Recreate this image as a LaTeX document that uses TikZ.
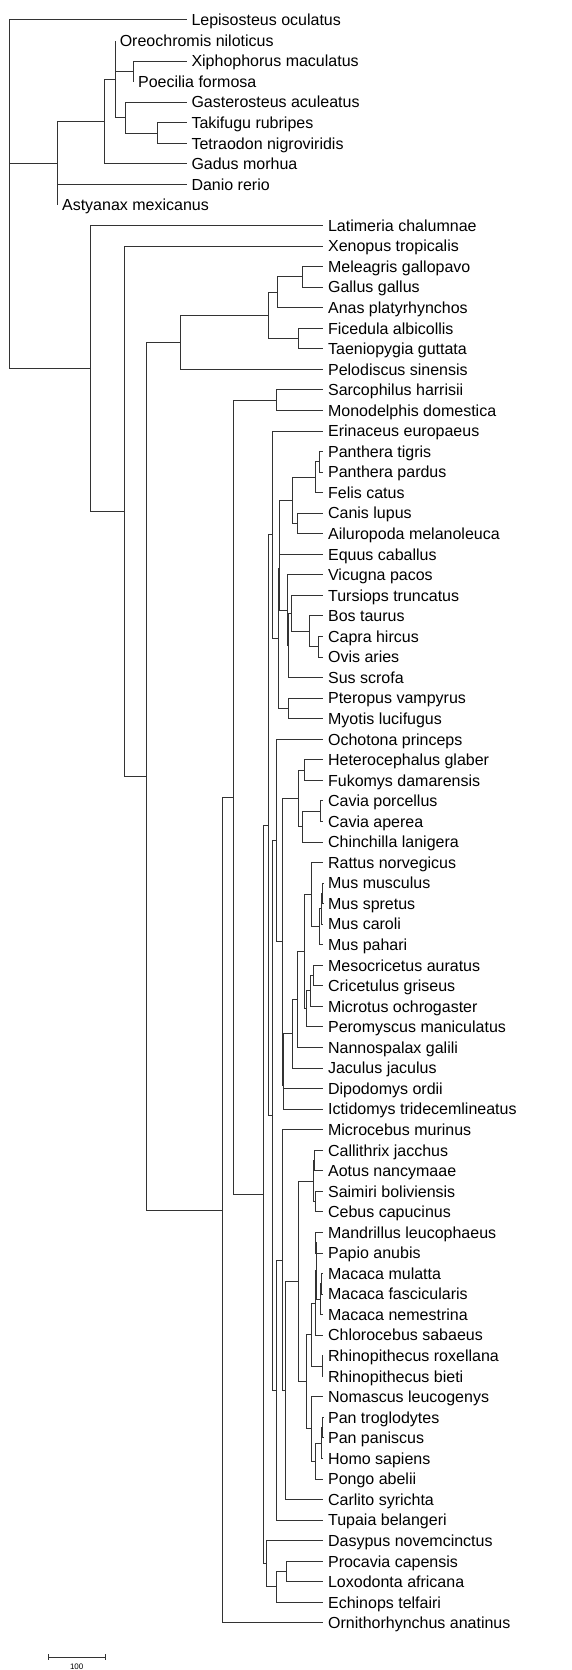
\documentclass[tikz,border=0pt]{standalone}
\usepackage{fontspec}
\usetikzlibrary{calc}
\newfontfamily\labfont{Liberation Sans}

% internal node: x position, y halfway between its first and last child
\newcommand\clade[4]{\path let \p1=(#3), \p2=(#4) in coordinate (#1) at (#2pt,{0.5*\y1+0.5*\y2});}
% rectangular branches from a node to each of its children
\newcommand\kids[2]{\foreach \kd in {#2}{\draw[branch] (#1) |- (\kd);}}

\begin{document}
\begin{tikzpicture}[x=1pt,y=-20.55pt,
  branch/.style={draw=black!80,line width=1pt},
  leaf/.style={anchor=west,inner xsep=4.6pt,inner ysep=0pt,text height=11.5pt,text depth=0pt,
    font=\labfont\fontsize{16}{19}\selectfont,text=black},
  scalelabel/.style={anchor=north,inner sep=0pt,font=\labfont\fontsize{8}{9}\selectfont}]
\useasboundingbox (0,0.02676) rectangle (571,81.2920);

% ---- leaves: ray-finned fishes
\node[leaf] (l1) at (186.7,1) {Lepisosteus oculatus};
\node[leaf] (l2) at (115,2) {Oreochromis niloticus};
\node[leaf] (l3) at (186.7,3) {Xiphophorus maculatus};
\node[leaf] (l4) at (133.3,4) {Poecilia formosa};
\node[leaf] (l5) at (186.7,5) {Gasterosteus aculeatus};
\node[leaf] (l6) at (186.7,6) {Takifugu rubripes};
\node[leaf] (l7) at (186.7,7) {Tetraodon nigroviridis};
\node[leaf] (l8) at (186.7,8) {Gadus morhua};
\node[leaf] (l9) at (186.7,9) {Danio rerio};
\node[leaf] (l10) at (57.3,10) {Astyanax mexicanus};

% ---- leaves: lobe-finned vertebrates
\foreach \n [count=\i from 11] in {Latimeria chalumnae, Xenopus tropicalis, Meleagris gallopavo,
  Gallus gallus, Anas platyrhynchos, Ficedula albicollis, Taeniopygia guttata, Pelodiscus sinensis,
  Sarcophilus harrisii, Monodelphis domestica, Erinaceus europaeus, Panthera tigris, Panthera pardus,
  Felis catus, Canis lupus, Ailuropoda melanoleuca, Equus caballus, Vicugna pacos, Tursiops truncatus,
  Bos taurus, Capra hircus, Ovis aries, Sus scrofa, Pteropus vampyrus, Myotis lucifugus,
  Ochotona princeps, Heterocephalus glaber, Fukomys damarensis, Cavia porcellus, Cavia aperea,
  Chinchilla lanigera, Rattus norvegicus, Mus musculus, Mus spretus, Mus caroli, Mus pahari,
  Mesocricetus auratus, Cricetulus griseus, Microtus ochrogaster, Peromyscus maniculatus,
  Nannospalax galili, Jaculus jaculus, Dipodomys ordii, Ictidomys tridecemlineatus,
  Microcebus murinus, Callithrix jacchus, Aotus nancymaae, Saimiri boliviensis, Cebus capucinus,
  Mandrillus leucophaeus, Papio anubis, Macaca mulatta, Macaca fascicularis, Macaca nemestrina,
  Chlorocebus sabaeus, Rhinopithecus roxellana, Rhinopithecus bieti, Nomascus leucogenys,
  Pan troglodytes, Pan paniscus, Homo sapiens, Pongo abelii, Carlito syrichta, Tupaia belangeri,
  Dasypus novemcinctus, Procavia capensis, Loxodonta africana, Echinops telfairi,
  Ornithorhynchus anatinus}
  \node[leaf] (l\i) at (323.3,\i) {\n};

% ---- internal nodes, bottom-up
% fishes
\clade{fF}{157.3}{l6}{l7}
\clade{fE}{125}{l5}{fF}
\clade{fD}{133.3}{l3}{l4}
\clade{fC}{115}{l2}{fE}
\clade{fB}{104}{fC}{l8}
\clade{fA}{57.3}{fB}{l10}
% sauropsids
\clade{galli}{302.3}{l13}{l14}
\clade{gallo}{277.7}{galli}{l15}
\clade{neoav}{298.3}{l16}{l17}
\clade{aves}{268.3}{gallo}{neoav}
\clade{saur}{180}{aves}{l18}
% marsupials
\clade{mars}{276.7}{l19}{l20}
% laurasiatherians
\clade{panth}{319}{l22}{l23}
\clade{felid}{315}{panth}{l24}
\clade{canif}{297.3}{l25}{l26}
\clade{carn}{292.3}{felid}{canif}
\clade{carneq}{279.7}{carn}{l27}
\clade{capr}{318.3}{l31}{l32}
\clade{bov}{309.3}{l30}{capr}
\clade{cetru}{291.7}{l29}{bov}
\clade{cetq}{288.3}{cetru}{l33}
\clade{cetart}{287.3}{l28}{cetq}
\clade{ferung}{279}{carneq}{cetart}
\clade{chiro}{288.3}{l34}{l35}
\clade{scrot}{278.3}{ferung}{chiro}
\clade{laur}{272.7}{l21}{scrot}
% glires
\clade{phiom}{304}{l37}{l38}
\clade{cavia}{320}{l39}{l40}
\clade{cavio}{302.7}{cavia}{l41}
\clade{hystr}{298.3}{phiom}{cavio}
\clade{musA}{322.7}{l43}{l44}
\clade{musB}{321}{musA}{l45}
\clade{musC}{319.3}{musB}{l46}
\clade{murin}{311.7}{l42}{musC}
\clade{crici}{313.3}{l47}{l48}
\clade{cricB}{310}{crici}{l49}
\clade{cricet}{306}{cricB}{l50}
\clade{muroid}{304}{murin}{cricet}
\clade{spalac}{297.3}{muroid}{l51}
\clade{myomor}{292.7}{spalac}{l52}
\clade{mouserel}{283.7}{myomor}{l53}
\clade{sciur}{283.2}{mouserel}{l54}
\clade{rod}{282.7}{hystr}{sciur}
\clade{glires}{276.7}{l36}{rod}
% euarchonta
\clade{callA}{314}{l56}{l57}
\clade{cebid}{315}{l58}{l59}
\clade{platy}{313.3}{callA}{cebid}
\clade{mandp}{315.7}{l60}{l61}
\clade{macA}{321.7}{l62}{l63}
\clade{macaca}{320}{macA}{l64}
\clade{papion}{316.3}{mandp}{macaca}
\clade{cercin}{315}{papion}{l65}
\clade{colob}{322.3}{l66}{l67}
\clade{cercid}{311.7}{cercin}{colob}
\clade{pan}{322.7}{l69}{l70}
\clade{homin}{321}{pan}{l71}
\clade{hominid}{315}{homin}{l72}
\clade{hominoid}{311.7}{l68}{hominid}
\clade{catar}{306}{cercid}{hominoid}
\clade{anthr}{298.3}{platy}{catar}
\clade{haplo}{285.3}{anthr}{l73}
\clade{prim}{282.7}{l55}{haplo}
\clade{euarch}{276.7}{prim}{l74}
\clade{euglir}{272.7}{glires}{euarch}
\clade{boreo}{268.3}{laur}{euglir}
% atlantogenata and deeper nodes
\clade{paen}{286}{l76}{l77}
\clade{afro}{276.7}{paen}{l78}
\clade{atlan}{266.7}{l75}{afro}
\clade{plac}{263.3}{boreo}{atlan}
\clade{theria}{233.3}{mars}{plac}
\clade{mamm}{222.7}{theria}{l79}
\clade{amnio}{146.7}{saur}{mamm}
\clade{tetra}{124}{l12}{amnio}
\clade{sarc}{90}{l11}{tetra}
\clade{root}{9}{l1}{sarc}

% ---- branches
\kids{root}{l1,fA,sarc}
\kids{fA}{fB,l9,l10}
\kids{fB}{fC,l8}
\kids{fC}{l2,fD,fE}
\kids{fD}{l3,l4}
\kids{fE}{l5,fF}
\kids{fF}{l6,l7}
\kids{sarc}{l11,tetra}
\kids{tetra}{l12,amnio}
\kids{amnio}{saur,mamm}
\kids{saur}{aves,l18}
\kids{aves}{gallo,neoav}
\kids{gallo}{galli,l15}
\kids{galli}{l13,l14}
\kids{neoav}{l16,l17}
\kids{mamm}{theria,l79}
\kids{theria}{mars,plac}
\kids{mars}{l19,l20}
\kids{plac}{boreo,atlan}
\kids{boreo}{laur,euglir}
\kids{laur}{l21,scrot}
\kids{scrot}{ferung,chiro}
\kids{ferung}{carneq,cetart}
\kids{carneq}{carn,l27}
\kids{carn}{felid,canif}
\kids{felid}{panth,l24}
\kids{panth}{l22,l23}
\kids{canif}{l25,l26}
\kids{cetart}{l28,cetq}
\kids{cetq}{cetru,l33}
\kids{cetru}{l29,bov}
\kids{bov}{l30,capr}
\kids{capr}{l31,l32}
\kids{chiro}{l34,l35}
\kids{euglir}{glires,euarch}
\kids{glires}{l36,rod}
\kids{rod}{hystr,sciur}
\kids{hystr}{phiom,cavio}
\kids{phiom}{l37,l38}
\kids{cavio}{cavia,l41}
\kids{cavia}{l39,l40}
\kids{sciur}{mouserel,l54}
\kids{mouserel}{myomor,l53}
\kids{myomor}{spalac,l52}
\kids{spalac}{muroid,l51}
\kids{muroid}{murin,cricet}
\kids{murin}{l42,musC}
\kids{musC}{musB,l46}
\kids{musB}{musA,l45}
\kids{musA}{l43,l44}
\kids{cricet}{cricB,l50}
\kids{cricB}{crici,l49}
\kids{crici}{l47,l48}
\kids{euarch}{prim,l74}
\kids{prim}{l55,haplo}
\kids{haplo}{anthr,l73}
\kids{anthr}{platy,catar}
\kids{platy}{callA,cebid}
\kids{callA}{l56,l57}
\kids{cebid}{l58,l59}
\kids{catar}{cercid,hominoid}
\kids{cercid}{cercin,colob}
\kids{cercin}{papion,l65}
\kids{papion}{mandp,macaca}
\kids{mandp}{l60,l61}
\kids{macaca}{macA,l64}
\kids{macA}{l62,l63}
\kids{colob}{l66,l67}
\kids{hominoid}{l68,hominid}
\kids{hominid}{homin,l72}
\kids{homin}{pan,l71}
\kids{pan}{l69,l70}
\kids{atlan}{l75,afro}
\kids{afro}{paen,l78}
\kids{paen}{l76,l77}

% ---- scale bar (100 units)
\coordinate (sbL) at (48.3,80.674);
\coordinate (sbR) at (105,80.674);
\draw[branch] (sbL) -- (sbR);
\draw[branch] ([yshift=3pt]sbL) -- ([yshift=-3pt]sbL);
\draw[branch] ([yshift=3pt]sbR) -- ([yshift=-3pt]sbR);
\node[scalelabel] (sblabel) at (76.7,80.976) {100};
\end{tikzpicture}
\end{document}
